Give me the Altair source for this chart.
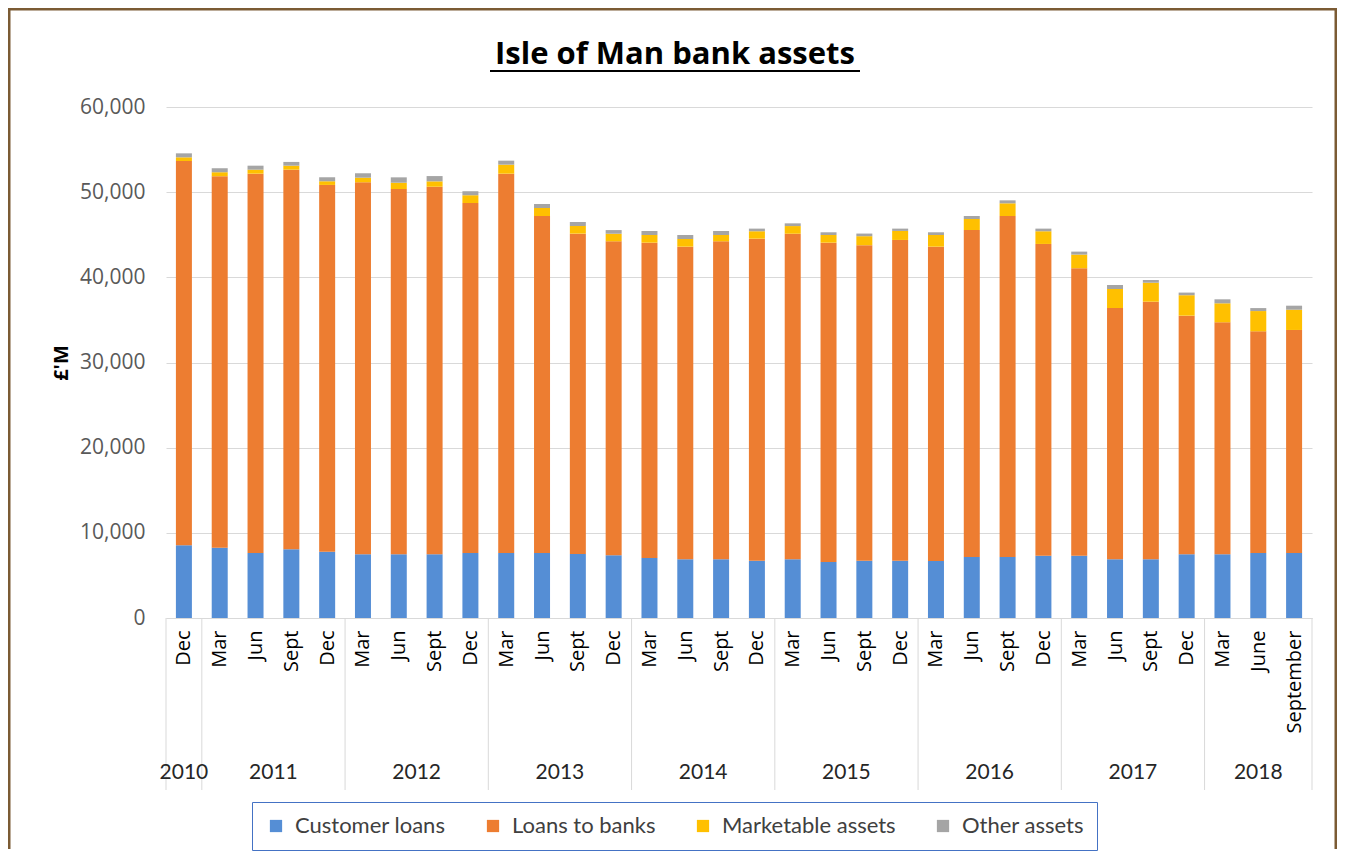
import altair as alt
import pandas as pd

months = ["Dec",
          "Mar", "Jun", "Sept", "Dec",
          "Mar", "Jun", "Sept", "Dec",
          "Mar", "Jun", "Sept", "Dec",
          "Mar", "Jun", "Sept", "Dec",
          "Mar", "Jun", "Sept", "Dec",
          "Mar", "Jun", "Sept", "Dec",
          "Mar", "Jun", "Sept", "Dec",
          "Mar", "June", "September"]
years = (["2010"] + ["2011"] * 4 + ["2012"] * 4 + ["2013"] * 4 + ["2014"] * 4
         + ["2015"] * 4 + ["2016"] * 4 + ["2017"] * 4 + ["2018"] * 3)

customer_loans = [8540, 8260, 7630, 8070, 7790, 7480, 7480, 7480, 7630, 7630, 7630,
                  7520, 7360, 7050, 6890, 6890, 6730, 6890, 6580, 6730, 6730, 6690,
                  7160, 7160, 7320, 7320, 6890, 6890, 7480, 7480, 7630, 7630]
loans_to_banks = [45120, 43610, 44540, 44570, 43060, 43680, 42890, 43160, 41100, 44540,
                  39570, 37610, 36870, 37020, 36710, 37340, 37810, 38230, 37490, 37040,
                  37660, 36910, 38400, 40040, 36600, 33750, 29510, 30250, 28020, 27240,
                  26030, 26190]
marketable_assets = [430, 470, 470, 470, 430, 540, 740, 630, 910, 1060, 940, 900, 890,
                     900, 900, 740, 870, 900, 900, 1060, 1060, 1370, 1290, 1490, 1490,
                     1600, 2230, 2230, 2400, 2230, 2380, 2380]
other_assets = [470, 470, 470, 440, 470, 520, 630, 620, 470, 470, 470, 470, 430, 470,
                470, 470, 310, 320, 320, 310, 270, 320, 350, 350, 310, 350, 470, 320,
                310, 470, 350, 470]

series_names = ["Customer loans", "Loans to banks", "Marketable assets", "Other assets"]
series_values = [customer_loans, loans_to_banks, marketable_assets, other_assets]
colors = ["#558ED5", "#ED7D31", "#FFC000", "#A5A5A5"]
chart_title = "Isle of Man bank assets"
y_title = "£'M"

W, H = 1146, 511

rows = []
for s_i, (name, vals) in enumerate(zip(series_names, series_values)):
    for i, v in enumerate(vals):
        rows.append({"idx": i, "month": months[i], "year": years[i],
                     "series": name, "order": s_i, "value": v})
df = pd.DataFrame(rows)

yr = pd.DataFrame({"i": range(len(years)), "year": years})
ygrp = yr.groupby("year", sort=False)["i"].agg(["min", "max"]).reset_index()
ygrp["idx"] = (ygrp["min"] + ygrp["max"]) / 2
bounds = sorted(set(list(ygrp["min"] - 0.5) + list(ygrp["max"] + 0.5)))
div_df = pd.DataFrame({"idx": bounds})

label_expr = "[" + ",".join("'" + m + "'" for m in months) + "][datum.value]"

xscale = alt.Scale(domain=[-0.5, len(months) - 0.5], nice=False, zero=False, padding=0)

x_axis = alt.Axis(values=list(range(len(months))), labelExpr=label_expr,
                  labelAngle=270, labelAlign="right", labelBaseline="middle",
                  labelFont="Open Sans", labelFontSize=20, labelColor="#000000",
                  labelPadding=12, ticks=False, grid=False,
                  domainColor="#D9D9D9", title=None, labelOverlap=False,
                  labelFlush=False)

bars = alt.Chart(df).mark_bar(size=16, orient="vertical").encode(
    x=alt.X("idx:Q", scale=xscale, axis=x_axis),
    y=alt.Y("value:Q", stack="zero",
            scale=alt.Scale(domain=[0, 60000], nice=False, padding=0),
            axis=alt.Axis(values=list(range(0, 60001, 10000)),
                          labelExpr="format(datum.value, ',.0f')",
                          labelFont="Open Sans", labelFontSize=21, labelColor="#595959",
                          labelPadding=21, ticks=False, domain=False, grid=True,
                          gridColor="#D9D9D9", title=y_title, titleFont="Open Sans",
                          titleFontSize=20, titleFontWeight="bold", titleColor="#000000",
                          titlePadding=8)),
    color=alt.Color("series:N",
                    scale=alt.Scale(domain=series_names, range=colors),
                    legend=alt.Legend(title=None, orient="none", legendX=86, legendY=695,
                                      direction="horizontal", columns=4,
                                      symbolType="square", symbolSize=150,
                                      symbolStrokeWidth=0, labelFont="Lato",
                                      labelFontSize=22, labelColor="#404040",
                                      labelLimit=400,
                                      strokeColor="#4472C4", padding=13,
                                      columnPadding=36, labelOffset=8,
                                      fillColor="#FFFFFF")),
    order=alt.Order("order:Q"),
)

dividers = alt.Chart(div_df).mark_rule(color="#D9D9D9", strokeWidth=1).encode(
    x=alt.X("idx:Q", scale=xscale, axis=x_axis),
    y=alt.value(H), y2=alt.value(H + 172),
)

year_text = alt.Chart(ygrp).mark_text(font="Lato", fontSize=21, color="#262626",
                                      baseline="middle", align="center").encode(
    x=alt.X("idx:Q", scale=xscale, axis=x_axis),
    y=alt.value(H + 155),
    text="year:N",
)

one = pd.DataFrame({"t": [chart_title]})
title_text = alt.Chart(one).mark_text(font="Open Sans", fontSize=31, fontWeight="bold",
                                      color="#000000", baseline="alphabetic",
                                      align="center").encode(
    x=alt.value(509), y=alt.value(-43), text="t:N")

underline = alt.Chart(one).mark_rule(color="#000000", strokeWidth=2).encode(
    x=alt.value(324), x2=alt.value(694), y=alt.value(-36))

# decorative chart frame (top, left, right edges) drawn as thin filled rects
frame_color = "#7B5B34"
frame_top = alt.Chart(one).mark_rect(color=frame_color, strokeWidth=0).encode(
    x=alt.value(-158), x2=alt.value(1171), y=alt.value(-99), y2=alt.value(-96.5))
frame_left = alt.Chart(one).mark_rect(color=frame_color, strokeWidth=0).encode(
    x=alt.value(-158), x2=alt.value(-155.5), y=alt.value(-99), y2=alt.value(742))
frame_right = alt.Chart(one).mark_rect(color=frame_color, strokeWidth=0).encode(
    x=alt.value(1168.5), x2=alt.value(1171), y=alt.value(-99), y2=alt.value(742))

chart = alt.layer(frame_top, frame_left, frame_right, bars, dividers, year_text,
                  title_text, underline).properties(
    width=W, height=H, padding=0
).configure_view(stroke=None)

chart.save("out.html", embed_options={"renderer": "svg", "actions": False})
